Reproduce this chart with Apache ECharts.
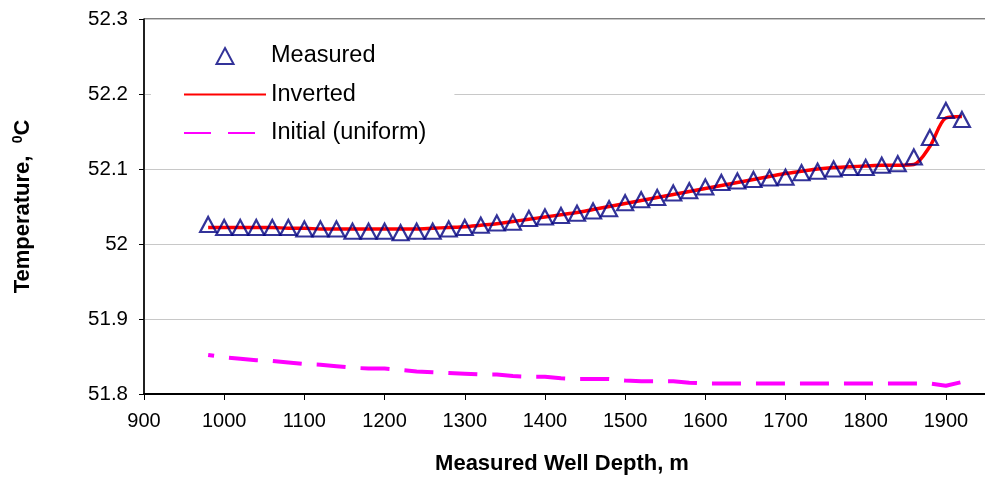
<!DOCTYPE html>
<html>
<head>
<meta charset="utf-8">
<script src="https://cdn.jsdelivr.net/npm/echarts@6/dist/echarts.min.js"></script>
<style>
  html, body { margin: 0; padding: 0; background: #fff; }
  #chart { width: 985px; height: 479px; }
</style>
</head>
<body>
<div id="chart"></div>
<script>
// Well depth (m) of each sample
const depths = [980, 1000, 1020, 1040, 1060, 1080, 1100, 1120, 1140, 1160,
  1180, 1200, 1220, 1240, 1260, 1280, 1300, 1320, 1340, 1360,
  1380, 1400, 1420, 1440, 1460, 1480, 1500, 1520, 1540, 1560,
  1580, 1600, 1620, 1640, 1660, 1680, 1700, 1720, 1740, 1760,
  1780, 1800, 1820, 1840, 1860, 1880, 1900, 1920];

// Measured temperature, °C
const measured = [52.026, 52.022, 52.022, 52.022, 52.022, 52.022, 52.020, 52.020, 52.020, 52.017,
  52.017, 52.017, 52.015, 52.017, 52.017, 52.020, 52.022, 52.025, 52.028, 52.029,
  52.034, 52.036, 52.038, 52.041, 52.044, 52.047, 52.055, 52.059, 52.062, 52.068,
  52.071, 52.076, 52.082, 52.084, 52.086, 52.088, 52.089, 52.095, 52.097, 52.100,
  52.102, 52.102, 52.105, 52.107, 52.116, 52.142, 52.178, 52.166];

// Inverted temperature profile, °C
const inverted = [52.022, 52.022, 52.022, 52.022, 52.022, 52.021, 52.021, 52.020, 52.020, 52.020,
  52.020, 52.020, 52.020, 52.020, 52.021, 52.022, 52.023, 52.025, 52.027, 52.030,
  52.033, 52.036, 52.039, 52.042, 52.046, 52.050, 52.054, 52.058, 52.062, 52.066,
  52.070, 52.074, 52.078, 52.082, 52.086, 52.090, 52.094, 52.097, 52.100, 52.102,
  52.103, 52.104, 52.105, 52.105, 52.106, 52.130, 52.168, 52.170];

// Initial (uniform) profile, °C
const initial = [51.852, 51.849, 51.847, 51.845, 51.844, 51.842, 51.840, 51.839, 51.837, 51.835,
  51.834, 51.834, 51.832, 51.830, 51.829, 51.828, 51.827, 51.826, 51.826, 51.824,
  51.823, 51.823, 51.821, 51.820, 51.820, 51.820, 51.818, 51.817, 51.817, 51.817,
  51.815, 51.814, 51.814, 51.814, 51.814, 51.814, 51.814, 51.814, 51.814, 51.814,
  51.814, 51.814, 51.814, 51.814, 51.814, 51.814, 51.811, 51.816];

const xTicks = { min: 900, max: 1960, step: 100 };
const yTicks = { min: 51.8, max: 52.3, step: 0.1 };

const pairs = (ys) => depths.map((d, i) => [d, ys[i]]);
const FONT = 'Liberation Sans, Arial, sans-serif';
const TRIANGLE = 'path://M8,0 L16,15 L0,15 Z';
const hideMarker = { opacity: 0 };

const chart = echarts.init(document.getElementById('chart'), null, { renderer: 'canvas' });
chart.setOption({
  animation: false,
  backgroundColor: '#fff',
  grid: {
    left: 144, top: 19, width: 850, height: 375,
    outerBoundsMode: 'none', containLabel: false,
    show: true, borderColor: '#000', borderWidth: 1, backgroundColor: 'transparent'
  },
  legend: {
    orient: 'vertical',
    left: 151, top: 32,
    padding: [12, 28, 12, 32],
    backgroundColor: '#fff',
    itemWidth: 82, itemHeight: 16, itemGap: 14.5,
    symbolKeepAspect: true,
    textStyle: { fontFamily: FONT, fontSize: 23.5, color: '#000', lineHeight: 24 },
    data: [
      { name: 'Measured', icon: TRIANGLE },
      { name: 'Inverted', itemStyle: hideMarker },
      { name: 'Initial (uniform)', itemStyle: hideMarker, lineStyle: { type: [27, 17], dashOffset: 0 } }
    ]
  },
  xAxis: {
    type: 'value',
    min: xTicks.min, max: xTicks.max, interval: xTicks.step,
    name: 'Measured Well Depth, m',
    nameLocation: 'middle', nameGap: 59,
    nameTextStyle: {
      fontFamily: FONT, fontSize: 22, fontWeight: 'bold', color: '#000',
      padding: [0, 14, 0, 0]
    },
    axisLine: { lineStyle: { color: '#000', width: 2 } },
    axisTick: { show: true, length: 6, lineStyle: { color: '#000' } },
    axisLabel: {
      fontFamily: FONT, fontSize: 20, color: '#000', margin: 17,
      formatter: (v) => (v % 100 === 0 ? String(v) : '')
    },
    splitLine: { show: false }
  },
  yAxis: {
    type: 'value',
    min: yTicks.min, max: yTicks.max, interval: yTicks.step,
    name: '{a|Temperature,  }{s|0}{a|C}',
    nameLocation: 'middle', nameGap: 110, nameRotate: 90,
    nameTextStyle: {
      fontFamily: FONT, fontSize: 22, fontWeight: 'bold', color: '#000',
      rich: {
        a: { fontFamily: FONT, fontSize: 22, fontWeight: 'bold', color: '#000' },
        s: { fontFamily: FONT, fontSize: 14, fontWeight: 'bold', color: '#000', verticalAlign: 'top', padding: [0, 0, 9, 0] }
      }
    },
    axisLine: { lineStyle: { color: '#000', width: 1.5 } },
    axisTick: { show: true, length: 5, lineStyle: { color: '#000' } },
    axisLabel: {
      fontFamily: FONT, fontSize: 20.5, color: '#000', margin: 16,
      padding: [5, 0, 0, 0],
      formatter: (v) => String(Math.round(v * 10) / 10)
    },
    splitLine: { show: true, lineStyle: { color: '#c8c8c8', width: 1 } }
  },
  series: [
    {
      name: 'Inverted', type: 'line', data: pairs(inverted),
      showSymbol: false, symbol: 'none', smooth: 0.3, z: 2,
      lineStyle: { color: '#ff0000', width: 3.5 },
      itemStyle: { color: '#ff0000' }
    },
    {
      name: 'Initial (uniform)', type: 'line', data: pairs(initial),
      showSymbol: false, symbol: 'none', z: 2,
      lineStyle: { color: '#ff00ff', width: 4, type: [29, 15], dashOffset: 23 },
      itemStyle: { color: '#ff00ff' }
    },
    {
      name: 'Measured', type: 'scatter', data: pairs(measured),
      symbol: 'triangle', symbolSize: [16, 15], z: 3,
      itemStyle: { color: 'transparent', borderColor: '#000080', borderWidth: 2.2 }
    }
  ]
});
</script>
</body>
</html>
